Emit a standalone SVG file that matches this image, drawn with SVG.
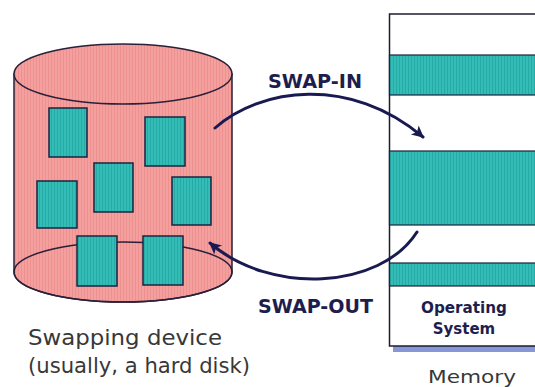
<svg xmlns="http://www.w3.org/2000/svg" width="535" height="387" viewBox="0 0 535 387">
  <style>
    .outline { stroke: #2a2038; stroke-width: 1.5; }
    .block { fill: url(#tealTex); stroke: #1c2440; stroke-width: 1.5; }
    .band { fill: url(#tealTex); stroke: #1c2440; stroke-width: 1.2; }
    .flow { fill: none; stroke: #1a1a52; stroke-width: 3; stroke-linecap: round; }
    .caption { font-family: "DejaVu Sans", "Liberation Sans", sans-serif; fill: #383838; }
    .label { font-family: "DejaVu Sans", "Liberation Sans", sans-serif; font-weight: bold; fill: #1e1e4e; }
  </style>
  <defs>
    <pattern id="pinkTex" width="3" height="3" patternUnits="userSpaceOnUse">
      <rect width="3" height="3" fill="#f3a09e"/>
      <rect width="1" height="3" fill="#ee9090"/>
    </pattern>
    <pattern id="tealTex" width="3" height="3" patternUnits="userSpaceOnUse">
      <rect width="3" height="3" fill="#34bcb6"/>
      <rect width="1" height="3" fill="#26aaa6"/>
    </pattern>
    <marker id="head" viewBox="0 0 10 10" refX="9" refY="5" markerWidth="15" markerHeight="12" markerUnits="userSpaceOnUse" orient="auto">
      <path d="M0,0 L10,5 L0,10 L2.5,5 Z" fill="#1a1a52"/>
    </marker>
  </defs>

  <rect width="535" height="387" fill="#ffffff"/>

  <!-- Swapping device: disk cylinder with stored process blocks -->
  <g id="disk">
    <path class="outline" d="M14,74 L14,272 A109,30 0 0 0 232,272 L232,74 Z" fill="url(#pinkTex)"/>
    <ellipse class="outline" cx="123" cy="272" rx="109" ry="30" fill="none"/>
    <ellipse class="outline" cx="123" cy="74" rx="109" ry="30" fill="url(#pinkTex)"/>
    <rect class="block" x="49" y="108" width="38" height="49"/>
    <rect class="block" x="145" y="117" width="40" height="49"/>
    <rect class="block" x="94" y="163" width="39" height="49"/>
    <rect class="block" x="37" y="181" width="40" height="47"/>
    <rect class="block" x="172" y="177" width="39" height="48"/>
    <rect class="block" x="77" y="236" width="40" height="50"/>
    <rect class="block" x="143" y="236" width="40" height="49"/>
  </g>

  <g id="disk-caption">
    <text class="caption" x="28" y="345" font-size="22" textLength="194" lengthAdjust="spacingAndGlyphs">Swapping device</text>
    <text class="caption" x="28" y="373" font-size="22" textLength="222" lengthAdjust="spacingAndGlyphs">(usually, a hard disk)</text>
  </g>

  <!-- Main memory column -->
  <g id="memory">
    <rect x="393" y="346" width="150" height="6" fill="#8796d6"/>
    <rect x="389.5" y="14" width="160" height="332" fill="#ffffff" stroke="#1c1c30" stroke-width="1.5"/>
    <rect class="band" x="389.5" y="55" width="160" height="40"/>
    <rect class="band" x="389.5" y="151" width="160" height="74"/>
    <rect class="band" x="389.5" y="263" width="160" height="23"/>
    <text class="label" x="464" y="313" font-size="15" text-anchor="middle" textLength="86" lengthAdjust="spacingAndGlyphs">Operating</text>
    <text class="label" x="464" y="334" font-size="15" text-anchor="middle">System</text>
    <text class="caption" x="472" y="383" font-size="17" text-anchor="middle" textLength="88" lengthAdjust="spacingAndGlyphs">Memory</text>
  </g>

  <!-- Swap transfers between disk and memory -->
  <g id="connectors">
    <path class="flow" d="M215,128 C260,88 350,75 423,137" marker-end="url(#head)"/>
    <path class="flow" d="M417,232 C380,290 270,295 210,243" marker-end="url(#head)"/>
    <text class="label" x="268" y="88" font-size="19" textLength="94" lengthAdjust="spacingAndGlyphs">SWAP-IN</text>
    <text class="label" x="258" y="313" font-size="19" textLength="115" lengthAdjust="spacingAndGlyphs">SWAP-OUT</text>
  </g>
</svg>
